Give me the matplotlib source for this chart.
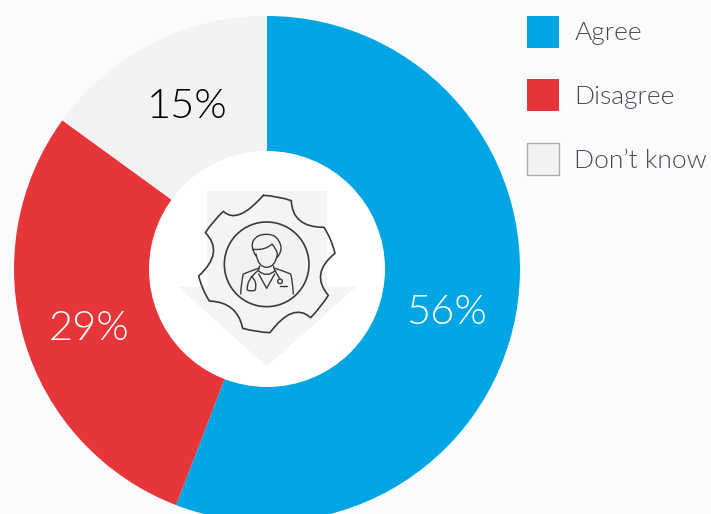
import matplotlib
matplotlib.use('Agg')
import matplotlib.pyplot as plt
from matplotlib.patches import Circle, Rectangle, Polygon, PathPatch
from matplotlib.path import Path

categories = ['Agree', 'Disagree', "Don\u2019t know"]
values = [55.85, 29.15, 15]
colors = ['#00a5e3', '#e73639', '#f2f2f2']
pct_labels = ['56%', '29%', '15%']
pct_colors = ['white', 'white', 'black']
pct_pos = [(446, 313), (89, 328), (187, 107)]
legend_y = [33, 97, 161]
legend_x = [575, 574, 574]
box_y = [32, 95, 159]

W, H = 711, 514
BG = '#fafbfd'
LINE = '#3a3a3a'

plt.rcParams['font.family'] = ['Lato', 'DejaVu Sans']


def flip(x, y):
    return (x, H - y)


def z(x, y):
    # icon coordinates are measured on a 3x crop starting at (150,150)
    return (150 + x / 3, H - (150 + y / 3))


def stroke(ax, codes, pts, lw=1.0, color=LINE, fill='none', zorder=6):
    verts = [z(*p) for p in pts]
    ax.add_patch(PathPatch(Path(verts, codes), facecolor=fill, edgecolor=color,
                           lw=lw, zorder=zorder, capstyle='round', joinstyle='round'))


def curve(points):
    # start point, then (control, end) pairs
    codes = [Path.MOVETO]
    pts = [points[0]]
    for c, e in points[1:]:
        codes += [Path.CURVE3, Path.CURVE3]
        pts += [c, e]
    return codes, pts


def draw_icon(ax):
    ax.add_patch(Rectangle(z(172, 410), 358 / 3, 286 / 3, fc='#f4f4f4', ec='none', zorder=3))
    ax.add_patch(Polygon([z(85, 410), z(618, 410), z(350, 650)], fc='#f4f4f4', ec='none', zorder=3))

    gear = [(340, 136),
            ((382, 138), (424, 152)), ((427, 232), (522, 232)),
            ((545, 268), (555, 310)), ((479, 371), (535, 436)),
            ((512, 472), (482, 503)), ((429, 455), (360, 548)),
            ((318, 546), (278, 535)), ((262, 456), (178, 453)),
            ((156, 418), (146, 378)), ((224, 307), (166, 248)),
            ((190, 212), (220, 184)), ((262, 225), (340, 136))]
    stroke(ax, *curve(gear), lw=1.2)

    cx, cy = z(350, 343)
    ax.add_patch(Circle((cx, cy), 127 / 3, fc='#f2f2f2', ec=LINE, lw=1.2, zorder=5))

    # hair
    stroke(ax, *curve([(318, 318), ((300, 290), (310, 272)), ((322, 252), (350, 253)),
                       ((385, 252), (393, 290)), ((395, 305), (382, 322))]))
    # fringe
    stroke(ax, *curve([(310, 298), ((345, 302), (366, 282)), ((378, 296), (382, 310))]))
    # jaw
    stroke(ax, *curve([(318, 312), ((325, 352), (350, 352)), ((376, 352), (382, 312))]))
    # neck and collar
    stroke(ax, *curve([(328, 348), ((328, 356), (325, 362)), ((350, 385), (375, 362)), ((371, 356), (371, 348))]))
    stroke(ax, [Path.MOVETO, Path.LINETO, Path.LINETO], [(326, 372), (350, 415), (374, 372)])
    # shoulders
    stroke(ax, *curve([(272, 432), ((274, 395), (280, 372)), ((305, 362), (325, 355))]))
    stroke(ax, *curve([(430, 432), ((428, 395), (422, 372)), ((398, 362), (375, 355))]))
    # stethoscope
    stroke(ax, *curve([(324, 362), ((288, 390), (292, 420)), ((304, 426), (316, 420)), ((322, 392), (304, 380))]))
    stroke(ax, [Path.MOVETO, Path.LINETO], [(374, 360), (389, 386)])
    ax.add_patch(Circle(z(390, 394), 7 / 3, fc='none', ec=LINE, lw=1.0, zorder=6))
    stroke(ax, [Path.MOVETO, Path.LINETO], [(390, 408), (412, 408)])


fig = plt.figure(figsize=(W / 100, H / 100), dpi=100, facecolor=BG)
ax = fig.add_axes([0, 0, 1, 1])
ax.set_facecolor(BG)

cx, cy = flip(267, 269)
ax.pie(values, colors=colors, startangle=90, counterclock=False,
       radius=253, center=(cx, cy), wedgeprops={'linewidth': 0})
ax.add_patch(Circle((cx, cy), 118, fc='white', ec='none', zorder=2))
ax.set_xlim(0, W)
ax.set_ylim(0, H)
ax.set_aspect('equal')
ax.axis('off')

draw_icon(ax)

for label, col, (x, y) in zip(pct_labels, pct_colors, pct_pos):
    ax.text(*flip(x, y), label, color=col, fontsize=30, fontweight=300,
            ha='center', va='center', zorder=7)

for i, name in enumerate(categories):
    ec = '#ababab' if i == 2 else 'none'
    ax.add_patch(Rectangle(flip(527, box_y[i] + 16), 32, 32, fc=colors[i], ec=ec, lw=1, zorder=3))
    ax.text(*flip(legend_x[i], legend_y[i]), name, color='#4a4a4f', fontsize=19, fontweight=300,
            ha='left', va='center', zorder=7)

fig.savefig('out.png', dpi=100, facecolor=BG)
